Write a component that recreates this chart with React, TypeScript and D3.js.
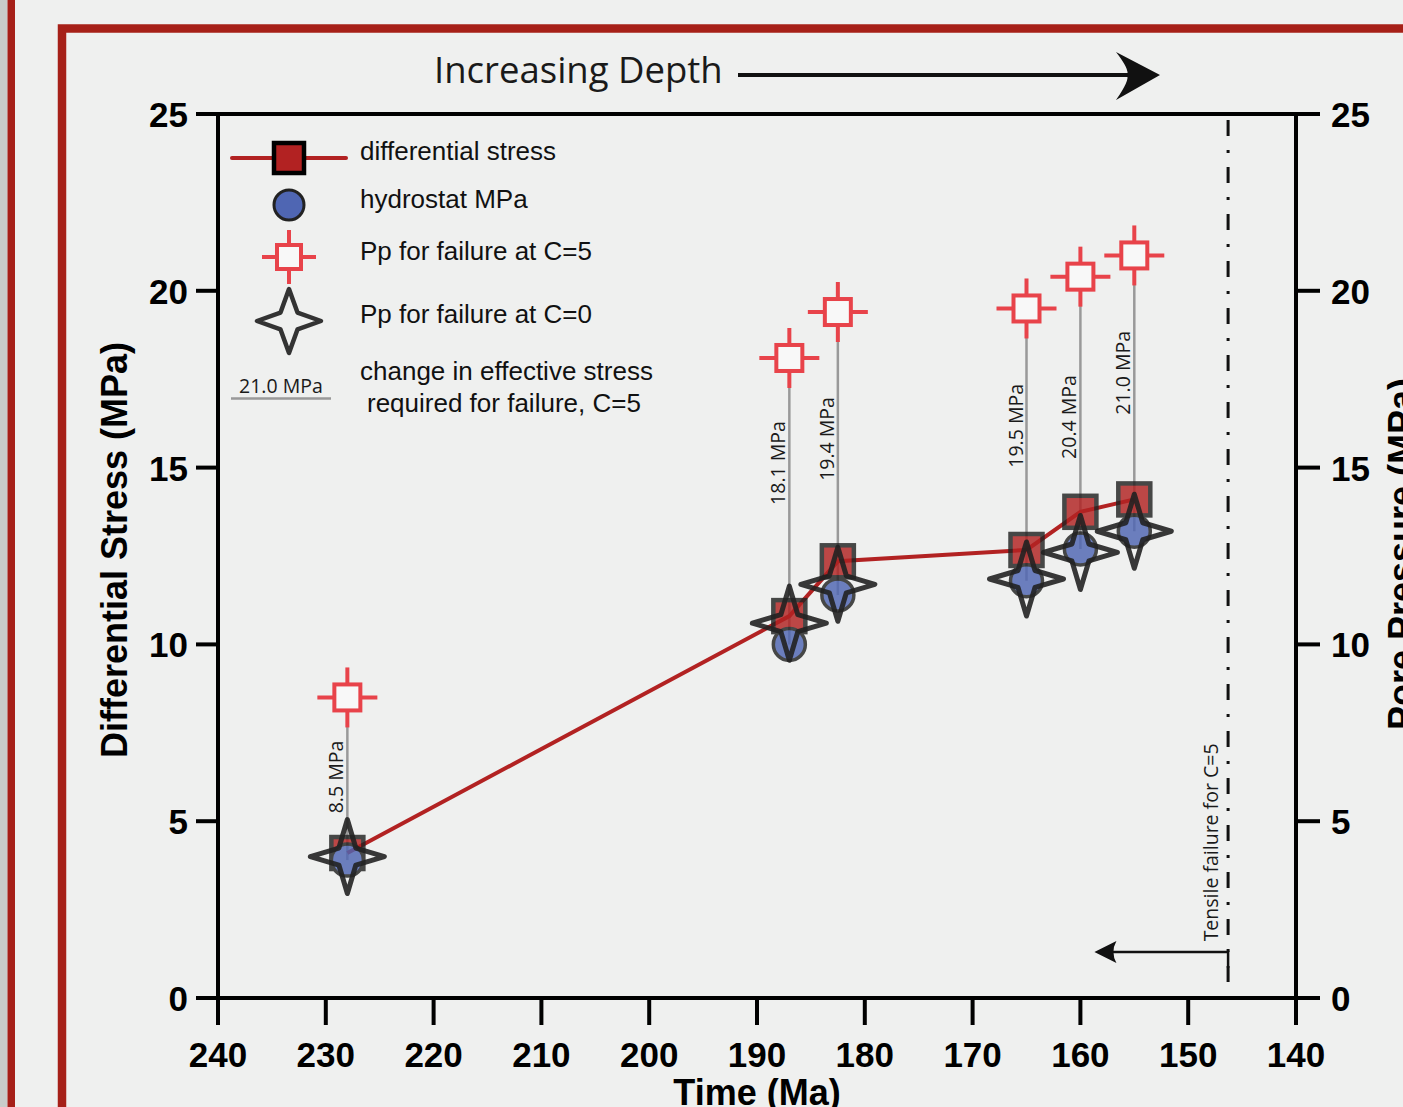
import * as d3 from 'd3'

// ages of the six sampled horizons (Ma)
const ages = [228, 187, 182.5, 165, 160, 155]
const diffStress = [4.1, 10.8, 12.35, 12.67, 13.75, 14.1]
const hydrostat = [3.9, 10.0, 11.4, 11.8, 12.7, 13.2]
const ppFailC5 = [8.5, 18.1, 19.4, 19.5, 20.4, 21.0]
const ppFailC0 = [4.0, 10.6, 11.7, 11.85, 12.6, 13.2]
const changeLabels = ['8.5 MPa', '18.1 MPa', '19.4 MPa', '19.5 MPa', '20.4 MPa', '21.0 MPa']
// where each rotated label sits along its connector (MPa)
const labelMid = [6.25, 15.13, 15.81, 16.18, 16.43, 17.68]

const xTicks = [240, 230, 220, 210, 200, 190, 180, 170, 160, 150, 140]
const yTicks = [0, 5, 10, 15, 20, 25]

const tensileAge = 146.3
const tensileArrowTo = 158.7
const tensileArrowAt = 1.3
const tensileLabelAt = 4.4

const W = 1403
const H = 1107
const BG = '#eff0ef'
const FRAME = '#a62018'
const RED = '#b22222'
const PINK = '#e8434a'
const BLUE = '#4f66b3'
const INK = '#222'
const HELV = '"Liberation Sans", Arial, Helvetica, sans-serif'
const MYRIAD = '"Open Sans", sans-serif'

const x = d3.scaleLinear().domain([240, 140]).range([218, 1296])
const y = d3.scaleLinear().domain([0, 25]).range([998, 114])

// four-point star with slightly concave sides
function starPath(R: number, r: number) {
  const pts: [number, number][] = []
  for (let i = 0; i < 8; i++) {
    const a = -Math.PI / 2 + (i * Math.PI) / 4
    const rad = i % 2 === 0 ? R : r
    pts.push([Math.cos(a) * rad, Math.sin(a) * rad])
  }
  return d3.line()(pts) + 'Z'
}

function CrossSquare({ cx, cy, arm, size }: { cx: number; cy: number; arm: number; size: number }) {
  return (
    <g transform={`translate(${cx},${cy})`} stroke={PINK} strokeWidth={4}>
      <line x1={-arm} x2={arm} y1={0} y2={0} />
      <line x1={0} x2={0} y1={-arm} y2={arm} />
      <rect x={-size / 2} y={-size / 2} width={size} height={size} fill="#f8f8f8" />
    </g>
  )
}

export default function App() {
  const diffLine = d3.line<number>()
    .x((_, i) => x(ages[i]))
    .y((d) => y(d))

  return (
    <svg width={W} height={H} style={{ position: 'fixed', left: 0, top: 0, background: BG }}>
      <rect width={W} height={H} fill={BG} />
      {/* page frames */}
      <rect x={0} y={0} width={7.5} height={H} fill="#c9cdca" />
      <rect x={7.5} y={0} width={7.5} height={H} fill={FRAME} />
      <rect x={62} y={28.5} width={1500} height={1300} fill="none" stroke={FRAME} strokeWidth={8.5} />

      {/* increasing depth */}
      <text x={434} y={83} fontFamily={MYRIAD} fontSize={36.5} fill="#1a1a1a">Increasing Depth</text>
      <line x1={738} x2={1128} y1={75} y2={75} stroke="#111" strokeWidth={4} />
      <path d="M1160,75 L1116,52 Q1130,70 1127,75 Q1130,80 1116,100 Z" fill="#111" />

      {/* tensile failure line */}
      <line x1={x(tensileAge)} x2={x(tensileAge)} y1={y(25) + 6} y2={y(0)}
        stroke="#111" strokeWidth={3} strokeDasharray="16,14,3,14" />
      <path d={`M${x(tensileAge)},${y(tensileArrowAt) + 16} V${y(tensileArrowAt)} H${x(tensileArrowTo) + 10}`}
        fill="none" stroke="#111" strokeWidth={2.5} />
      <path d={`M${x(tensileArrowTo)},${y(tensileArrowAt)} l22,-11 q-6,11 0,22 Z`} fill="#111" />
      <text transform={`translate(${x(tensileAge) - 10},${y(tensileLabelAt)}) rotate(-90)`}
        textAnchor="middle" fontFamily={MYRIAD} fontSize={19.5} fill="#1a1a1a">Tensile failure for C=5</text>

      {/* axes */}
      <g stroke="#000" strokeWidth={4} strokeLinecap="butt">
        <line x1={196} x2={1320} y1={y(25)} y2={y(25)} />
        <line x1={x(240)} x2={x(240)} y1={y(25) - 2} y2={y(0) + 2} />
        <line x1={x(140)} x2={x(140)} y1={y(25) - 2} y2={y(0) + 2} />
        <line x1={x(240)} x2={x(140)} y1={y(0)} y2={y(0)} />
        {yTicks.map((t) => (
          <g key={t}>
            <line x1={196} x2={x(240)} y1={y(t)} y2={y(t)} />
            <line x1={x(140)} x2={1320} y1={y(t)} y2={y(t)} />
          </g>
        ))}
        {xTicks.map((t) => (
          <line key={t} x1={x(t)} x2={x(t)} y1={y(0)} y2={y(0) + 27} />
        ))}
      </g>
      <g fontFamily={HELV} fontWeight="bold" fontSize={35} fill="#000">
        {yTicks.map((t) => (
          <g key={t}>
            <text x={188} y={y(t) + 13} textAnchor="end">{t}</text>
            <text x={1331} y={y(t) + 13}>{t}</text>
          </g>
        ))}
        {xTicks.map((t) => (
          <text key={t} x={x(t)} y={1067} textAnchor="middle">{t}</text>
        ))}
        <text x={x(190)} y={1105} textAnchor="middle" fontSize={36}>Time (Ma)</text>
        <text transform={`translate(127,550) rotate(-90)`} textAnchor="middle" fontSize={36}>Differential Stress (MPa)</text>
        <text transform={`translate(1414,554) rotate(-90)`} textAnchor="middle" fontSize={36}>Pore Pressure (MPa)</text>
      </g>

      {/* connectors from Pp (C=5) down to hydrostat */}
      {ages.map((a, i) => (
        <line key={a} x1={x(a)} x2={x(a)} y1={y(ppFailC5[i])} y2={y(hydrostat[i])}
          stroke="#999" strokeWidth={2.5} />
      ))}
      {ages.map((a, i) => (
        <text key={a} transform={`translate(${x(a) - 4},${y(labelMid[i])}) rotate(-90)`}
          textAnchor="middle" fontFamily={MYRIAD} fontSize={19.5} fill="#1a1a1a">{changeLabels[i]}</text>
      ))}

      {/* differential stress line + squares */}
      <path d={diffLine(diffStress) || ''} fill="none" stroke={RED} strokeWidth={4} />
      <g opacity={0.82}>
        {ages.map((a, i) => (
          <rect key={a} x={x(a) - 16} y={y(diffStress[i]) - 16} width={32} height={32}
            fill={RED} stroke={INK} strokeWidth={4.5} />
        ))}
        {ages.map((a, i) => (
          <circle key={a} cx={x(a)} cy={y(hydrostat[i])} r={16} fill={BLUE} stroke={INK} strokeWidth={3.5} />
        ))}
      </g>
      <g opacity={0.9}>
        {ages.map((a, i) => (
          <path key={a} d={starPath(37, 12)} transform={`translate(${x(a)},${y(ppFailC0[i])})`}
            fill="none" stroke={INK} strokeWidth={5} strokeLinejoin="round" />
        ))}
      </g>
      {ages.map((a, i) => (
        <CrossSquare key={a} cx={x(a)} cy={y(ppFailC5[i])} arm={30} size={26} />
      ))}

      {/* legend */}
      <line x1={232} x2={346} y1={158} y2={158} stroke={RED} strokeWidth={4} strokeLinecap="round" />
      <rect x={274} y={143} width={30} height={30} fill={RED} stroke="#000" strokeWidth={4.5} />
      <circle cx={289} cy={205} r={15} fill={BLUE} stroke={INK} strokeWidth={3} />
      <CrossSquare cx={289} cy={257} arm={27} size={24} />
      <path d={starPath(32, 12)} transform="translate(289,321)" fill="none" stroke="#333" strokeWidth={4.5} strokeLinejoin="round" />
      <text x={239} y={393} fontFamily={MYRIAD} fontSize={19.5} fill="#1a1a1a">21.0 MPa</text>
      <line x1={231} x2={331} y1={398.5} y2={398.5} stroke="#999" strokeWidth={2.5} />
      <g fontFamily={HELV} fontSize={26} fill="#111">
        <text x={360} y={160}>differential stress</text>
        <text x={360} y={208}>hydrostat MPa</text>
        <text x={360} y={260}>Pp for failure at C=5</text>
        <text x={360} y={323}>Pp for failure at C=0</text>
        <text x={360} y={380}>change in effective stress</text>
        <text x={367} y={412}>required for failure, C=5</text>
      </g>
    </svg>
  )
}
